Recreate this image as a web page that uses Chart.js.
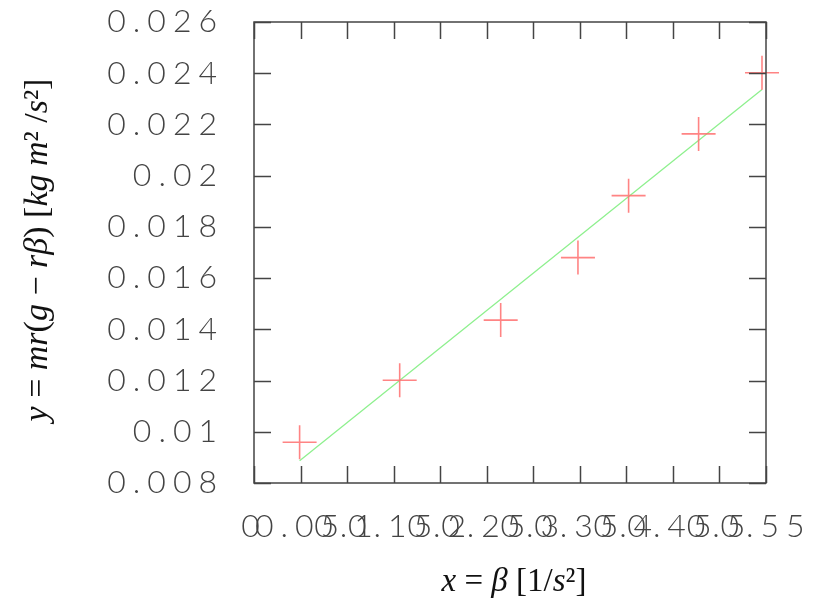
<!DOCTYPE html>
<html>
<head>
<meta charset="utf-8">
<script src="https://cdn.jsdelivr.net/npm/chart.js@4/dist/chart.umd.min.js"></script>
<style>
  body { margin: 0; background: #fff; }
  canvas { display: block; }
</style>
</head>
<body>
<canvas id="myChart" width="828" height="603"></canvas>
<script>
// measured points (beta, y)
var betaVals = [0.049, 0.1565, 0.265, 0.348, 0.4024, 0.4776, 0.5457];
var yVals = [0.00959, 0.01201, 0.01436, 0.0168, 0.01922, 0.02163, 0.02402];
// fitted line end points
var fitX = [0.049, 0.5457];
var fitY = [0.00887, 0.02336];
// axis ranges / ticks
var xTicks = [0, 0.55, 0.05];
var yTicks = [0.008, 0.026, 0.002];

var tickFont = { family: "Lato, 'DejaVu Sans', sans-serif", size: 32, weight: 300 };

function fmt(v) {
  return String(+v.toFixed(4));
}

function drawRuns(ctx, runs, size) {
  var total = 0;
  runs.forEach(function(r) {
    ctx.font = (r[1] === "i" ? "italic " : "") + size + "px 'Liberation Serif', 'DejaVu Serif', serif";
    total += ctx.measureText(r[0]).width;
  });
  var x = -total / 2;
  runs.forEach(function(r) {
    ctx.font = (r[1] === "i" ? "italic " : "") + size + "px 'Liberation Serif', 'DejaVu Serif', serif";
    ctx.fillText(r[0], x, 0);
    x += ctx.measureText(r[0]).width;
  });
}

var framePlugin = {
  id: "frame",
  beforeDraw: function(chart) {
    chart.ctx.letterSpacing = "7px";
  },
  afterDraw: function(chart) {
    var ctx = chart.ctx;
    var a = chart.chartArea;
    var xs = chart.scales.x;
    var ys = chart.scales.y;
    ctx.save();
    ctx.letterSpacing = "0px";
    ctx.strokeStyle = "#444";
    ctx.lineWidth = 1.5;
    ctx.strokeRect(a.left, a.top, a.right - a.left, a.bottom - a.top);
    ctx.beginPath();
    xs.ticks.forEach(function(t) {
      var px = Math.round(xs.getPixelForValue(t.value)) + 0.5;
      ctx.moveTo(px, a.bottom);
      ctx.lineTo(px, a.bottom - 17);
      ctx.moveTo(px, a.top);
      ctx.lineTo(px, a.top + 17);
    });
    ys.ticks.forEach(function(t) {
      var py = Math.round(ys.getPixelForValue(t.value)) + 0.5;
      ctx.moveTo(a.left, py);
      ctx.lineTo(a.left + 17, py);
      ctx.moveTo(a.right, py);
      ctx.lineTo(a.right - 17, py);
    });
    ctx.stroke();

    // axis titles
    ctx.fillStyle = "#111";
    ctx.textBaseline = "middle";
    ctx.textAlign = "left";
    ctx.save();
    ctx.translate(514, 582);
    drawRuns(ctx, [["x", "i"], [" = ", "n"], ["β", "i"], [" [1/", "n"], ["s", "i"], ["²", "n"], ["]", "n"]], 33);
    ctx.restore();
    ctx.save();
    ctx.translate(38, 250);
    ctx.rotate(-Math.PI / 2);
    drawRuns(ctx, [["y", "i"], [" = ", "n"], ["mr", "i"], ["(", "n"], ["g", "i"], [" − ", "n"], ["rβ", "i"], [") [", "n"], ["kg m", "i"], ["²", "n"], [" /", "n"], ["s", "i"], ["²", "n"], ["]", "n"]], 34);
    ctx.restore();
    ctx.restore();
  }
};

var points = betaVals.map(function(b, i) { return { x: b, y: yVals[i] }; });
var fitLine = fitX.map(function(b, i) { return { x: b, y: fitY[i] }; });

var ctx = document.getElementById("myChart").getContext("2d");
var chart = new Chart(ctx, {
  type: "scatter",
  data: {
    datasets: [
      {
        label: "data",
        data: points,
        pointStyle: "cross",
        pointRadius: 17,
        pointHoverRadius: 17,
        borderColor: "rgba(255, 110, 110, 0.85)",
        borderWidth: 1.6,
        showLine: false,
        clip: false,
        order: 1
      },
      {
        label: "fit",
        type: "line",
        data: fitLine,
        borderColor: "#8ef08e",
        borderWidth: 1.3,
        pointRadius: 0,
        fill: false,
        clip: false,
        order: 2
      }
    ]
  },
  options: {
    responsive: false,
    animation: false,
    devicePixelRatio: 1,
    layout: { padding: { top: 22, right: 62, left: 0, bottom: 0 } },
    plugins: {
      legend: { display: false },
      tooltip: { enabled: false }
    },
    scales: {
      x: {
        type: "linear",
        min: xTicks[0],
        max: xTicks[1],
        grid: { display: false, drawTicks: false },
        border: { display: false },
        ticks: {
          stepSize: xTicks[2],
          autoSkip: false,
          maxRotation: 0,
          minRotation: 0,
          padding: 24,
          color: "#444",
          font: tickFont,
          callback: function(v) { return fmt(v); }
        },
        afterFit: function(scale) {
          scale.height = 120;
          scale.paddingLeft = 0;
          scale.paddingRight = 0;
        }
      },
      y: {
        type: "linear",
        min: yTicks[0],
        max: yTicks[1],
        grid: { display: false, drawTicks: false },
        border: { display: false },
        ticks: {
          stepSize: yTicks[2],
          padding: 30,
          color: "#444",
          font: tickFont,
          callback: function(v) { return fmt(v); }
        },
        afterFit: function(scale) {
          scale.width = 254;
          scale.paddingTop = 0;
          scale.paddingBottom = 0;
        }
      }
    }
  },
  plugins: [framePlugin]
});
</script>
</body>
</html>
